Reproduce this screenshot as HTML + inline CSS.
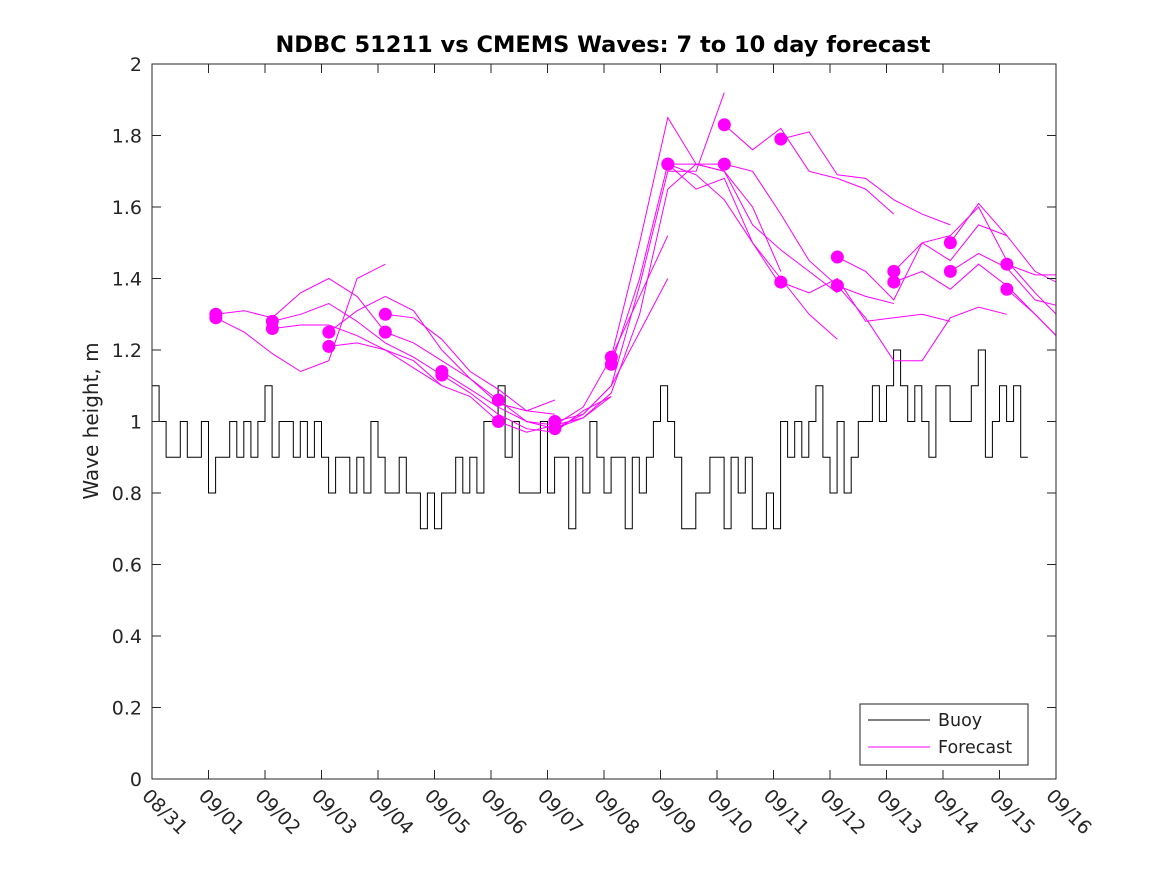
<!DOCTYPE html>
<html><head><meta charset="utf-8"><style>
body{margin:0;background:#fff}
svg{display:block;font-family:"DejaVu Sans","Liberation Sans",sans-serif}
</style></head><body>
<svg id="chart" width="1167" height="875" viewBox="0 0 1167 875">
<rect width="1167" height="875" fill="#fff"/>
<text x="603" y="52" text-anchor="middle" font-size="22.5" font-weight="bold" fill="#000">NDBC 51211 vs CMEMS Waves: 7 to 10 day forecast</text>
<text transform="translate(98,421) rotate(-90)" text-anchor="middle" font-size="20" fill="#222">Wave height, m</text>
<defs><clipPath id="plotclip"><rect x="152" y="64" width="904" height="715"/></clipPath></defs>
<g id="marks" clip-path="url(#plotclip)"></g>
<g id="axes"></g>
<g>
<rect x="860" y="704" width="168" height="61" fill="#fff" stroke="#222" stroke-width="1"/>
<line x1="868" y1="720" x2="930" y2="720" stroke="#000" stroke-width="1"/>
<text x="938" y="726" font-size="17.5" fill="#222">Buoy</text>
<line x1="868" y1="747" x2="930" y2="747" stroke="#ff00ff" stroke-width="1"/>
<text x="938" y="753" font-size="17.5" fill="#222">Forecast</text>
</g>
</svg>
<script>
const dateLabels=["08/31","09/01","09/02","09/03","09/04","09/05","09/06","09/07","09/08","09/09","09/10","09/11","09/12","09/13","09/14","09/15","09/16"];
const yTicks=[0,0.2,0.4,0.6,0.8,1,1.2,1.4,1.6,1.8,2];
const yTickLabels=["0","0.2","0.4","0.6","0.8","1","1.2","1.4","1.6","1.8","2"];
// buoy, 3-hourly from 08/31 00:00
const buoyValues=[1.1,1.0,0.9,0.9,1.0,0.9,0.9,1.0,
0.8,0.9,0.9,1.0,0.9,1.0,0.9,1.0,
1.1,0.9,1.0,1.0,0.9,1.0,0.9,1.0,
0.9,0.8,0.9,0.9,0.8,0.9,0.8,1.0,
0.9,0.8,0.8,0.9,0.8,0.8,0.7,0.8,
0.7,0.8,0.8,0.9,0.8,0.9,0.8,1.0,
1.0,1.1,0.9,1.0,0.8,0.8,0.8,1.0,
0.8,0.9,0.9,0.7,0.9,0.8,1.0,0.9,
0.8,0.9,0.9,0.7,0.9,0.8,0.9,1.0,
1.1,1.0,0.9,0.7,0.7,0.8,0.8,0.9,
0.9,0.7,0.9,0.8,0.9,0.7,0.7,0.8,
0.7,1.0,0.9,1.0,0.9,1.0,1.1,0.9,
0.8,1.0,0.8,0.9,1.0,1.0,1.1,1.0,
1.1,1.2,1.1,1.0,1.1,1.0,0.9,1.1,
1.1,1.0,1.0,1.0,1.1,1.2,0.9,1.0,
1.1,1.0,1.1,0.9];
const buoyStepDays=0.125;
// forecast start days (days since 08/31) and values at 0.5-day steps
const forecastStarts=[1.13,1.13,2.13,2.13,3.13,3.13,4.13,4.13,5.13,5.13,6.13,6.13,7.13,7.13,8.13,8.13,9.13,9.13,10.13,10.13,11.13,11.13,12.13,12.13,13.13,13.13,14.13,14.13,15.13,15.13];
const forecastValues=[
[1.30,1.31,1.29,1.36,1.40,1.35,1.25],
[1.29,1.25,1.19,1.14,1.17,1.40,1.44],
[1.28,1.30,1.33,1.28,1.22,1.18,1.13],
[1.26,1.27,1.27,1.24,1.20,1.17,1.10],
[1.25,1.31,1.35,1.31,1.20,1.12,1.06],
[1.21,1.22,1.20,1.15,1.10,1.07,1.00],
[1.30,1.29,1.23,1.14,1.09,1.03,1.02],
[1.25,1.22,1.17,1.12,1.05,1.03,1.06],
[1.14,1.09,1.04,1.00,0.99,1.01,1.07],
[1.13,1.08,1.02,0.98,0.97,1.03,1.07],
[1.06,1.00,0.98,1.02,1.10,1.25,1.40],
[1.00,0.97,0.99,1.04,1.18,1.35,1.52],
[1.00,1.02,1.10,1.38,1.70,1.70,1.92],
[0.98,1.01,1.08,1.30,1.65,1.72,1.72],
[1.18,1.50,1.85,1.72,1.70,1.60,1.42],
[1.16,1.40,1.72,1.65,1.68,1.50,1.38],
[1.72,1.72,1.70,1.55,1.48,1.42,1.36],
[1.72,1.69,1.62,1.50,1.40,1.30,1.23],
[1.83,1.76,1.82,1.70,1.68,1.65,1.58],
[1.72,1.70,1.58,1.45,1.38,1.35,1.33],
[1.79,1.81,1.69,1.68,1.62,1.58,1.55],
[1.39,1.36,1.40,1.28,1.29,1.30,1.28],
[1.46,1.42,1.34,1.50,1.45,1.55,1.52],
[1.38,1.29,1.17,1.17,1.29,1.32,1.30],
[1.42,1.50,1.52,1.60,1.45,1.36,1.28],
[1.39,1.42,1.37,1.44,1.38,1.30,1.22],
[1.50,1.61,1.52,1.42,1.38,1.28,1.20],
[1.42,1.47,1.43,1.34,1.32,1.40,1.42],
[1.44,1.41,1.41,1.38,1.35,1.30,1.28],
[1.37,1.30,1.22,1.16,1.12,1.10,1.08]];
const forecastStepDays=0.5;

const NS="http://www.w3.org/2000/svg";
const X0=152,X1=1056,Y0=779,Y1=64,DMAX=16,VMAX=2;
function xs(d){return X0+(d/DMAX)*(X1-X0);}
function ys(v){return Y0-(v/VMAX)*(Y0-Y1);}
function mk(tag,attrs,parent){const e=document.createElementNS(NS,tag);for(const k in attrs)e.setAttribute(k,attrs[k]);parent.appendChild(e);return e;}
const marks=document.getElementById('marks'),axes=document.getElementById('axes');

let d="";
buoyValues.forEach((v,i)=>{const xa=xs(i*buoyStepDays),xb=xs((i+1)*buoyStepDays);d+=(i===0?"M":"L")+xa.toFixed(1)+","+ys(v).toFixed(1)+"L"+xb.toFixed(1)+","+ys(v).toFixed(1);});
const bl=mk('path',{d:d,fill:'none',stroke:'#000','stroke-width':1},marks);



forecastValues.forEach((vals,k)=>{
  const s=forecastStarts[k];
  const pts=vals.map((v,i)=>xs(s+i*forecastStepDays).toFixed(1)+","+ys(v).toFixed(1)).join(" ");
  const pl=mk('polyline',{points:pts,fill:'none',stroke:'#ff00ff','stroke-width':1},marks);
  
  
});
forecastValues.forEach((vals,k)=>{
  const c=mk('circle',{cx:xs(forecastStarts[k]),cy:ys(vals[0]),r:6.5,fill:'#ff00ff'},marks);
  
  
});

const box=mk('rect',{x:X0,y:Y1,width:X1-X0,height:Y0-Y1,fill:'none',stroke:'#262626','stroke-width':1},axes);


yTicks.forEach((v,i)=>{
  const y=ys(v);
  mk('line',{x1:X0,y1:y,x2:X0+9,y2:y,stroke:'#262626'},axes);
  mk('line',{x1:X1,y1:y,x2:X1-9,y2:y,stroke:'#262626'},axes);
  const t=mk('text',{x:X0-10,y:y+7,'text-anchor':'end','font-size':19,fill:'#262626'},axes);
  t.textContent=yTickLabels[i];
  
  
});
dateLabels.forEach((lab,i)=>{
  const x=xs(i);
  mk('line',{x1:x,y1:Y0,x2:x,y2:Y0-9,stroke:'#262626'},axes);
  mk('line',{x1:x,y1:Y1,x2:x,y2:Y1+9,stroke:'#262626'},axes);
  const t=mk('text',{transform:'translate('+(x-11)+','+(797)+') rotate(45)','font-size':19,fill:'#262626'},axes);
  t.textContent=lab;
  
  
});
</script>
</body></html>
